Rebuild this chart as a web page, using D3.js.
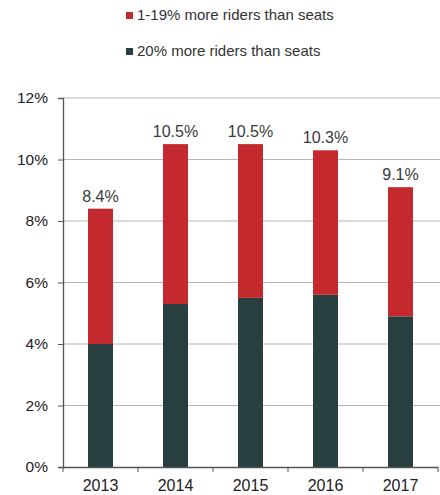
<!DOCTYPE html>
<html><head><meta charset="utf-8">
<script src="https://cdn.jsdelivr.net/npm/d3@7"></script>
<style>body{margin:0;background:#fff;} svg{display:block;font-family:"Liberation Sans",Arial,sans-serif;}</style>
</head><body><svg id="c" width="440" height="495"></svg>
<script>
const years = ["2013","2014","2015","2016","2017"];
const severe = [4.0, 5.3, 5.5, 5.6, 4.9];      // 20% more riders than seats
const total = [8.4, 10.5, 10.5, 10.3, 9.1];     // labelled totals
const moderate = total.map((t,i)=>+(t-severe[i]).toFixed(1)); // 1-19%
const yTicks = [0,2,4,6,8,10,12];
const seriesNames = ["1-19% more riders than seats","20% more riders than seats"];
const colors = {moderate:"#c4292e", severe:"#27403f"};

const svg = d3.select("#c");
const m = {l:63, r:2, t:98, b:28};
const W = 440, H = 495;
const x = d3.scaleBand().domain(years).range([m.l, W - m.r]).paddingInner(0).paddingOuter(0);
const y = d3.scaleLinear().domain([0,12]).range([467, 98]);

// gridlines
svg.append("g").selectAll("line").data(yTicks.filter(d=>d>0)).join("line")
  .attr("x1", m.l).attr("x2", W).attr("y1", d=>y(d)).attr("y2", d=>y(d))
  .attr("stroke", "#b5b5b5").attr("stroke-width", 1.2);

// bars
const bw = x.bandwidth()/3;
const g = svg.append("g");
g.selectAll(".s").data(years).join("rect")
  .attr("x", d=>x(d)+x.bandwidth()/2-bw/2).attr("width", bw)
  .attr("y", (d,i)=>y(severe[i])).attr("height", (d,i)=>y(0)-y(severe[i]))
  .attr("fill", colors.severe);
g.selectAll(".m").data(years).join("rect")
  .attr("x", d=>x(d)+x.bandwidth()/2-bw/2).attr("width", bw)
  .attr("y", (d,i)=>y(severe[i]+moderate[i])).attr("height", (d,i)=>y(severe[i])-y(severe[i]+moderate[i]))
  .attr("fill", colors.moderate);

// value labels
g.selectAll(".lab").data(years).join("text")
  .attr("x", d=>x(d)+x.bandwidth()/2).attr("y", (d,i)=>y(total[i])-7)
  .attr("text-anchor","middle").attr("font-size", 16).attr("fill","#3a3a3a")
  .text((d,i)=>total[i].toFixed(1)+"%");

// y axis
const ya = svg.append("g").attr("transform",`translate(${m.l},0)`)
  .call(d3.axisLeft(y).tickValues(yTicks).tickFormat(d=>d+"%").tickSize(5).tickPadding(10));
ya.select(".domain").attr("stroke","#555").attr("stroke-width",1.3);
ya.selectAll(".tick line").attr("stroke","#555");
ya.selectAll("text").attr("font-size",15.5).attr("fill","#222").style("font-family","Liberation Sans, Arial, sans-serif");

// x axis
const xa = svg.append("g").attr("transform",`translate(0,${y(0)})`)
  .call(d3.axisBottom(x).tickSize(0).tickPadding(13));
xa.select(".domain").attr("stroke","#555").attr("stroke-width",1.3);
xa.selectAll("text").attr("font-size",16).attr("fill","#222").style("font-family","Liberation Sans, Arial, sans-serif");
// category boundary ticks
svg.append("g").selectAll("line").data(years.concat(["end"])).join("line")
  .attr("x1",(d,i)=>i<years.length? x(d): W-m.r).attr("x2",(d,i)=>i<years.length? x(d): W-m.r)
  .attr("y1", y(0)).attr("y2", y(0)+5).attr("stroke","#555");

// legend
const legend = svg.append("g");
const lb = [20, 56];
const lc = [colors.moderate, colors.severe];
seriesNames.forEach((n,i)=>{
  legend.append("rect").attr("x",126).attr("y",lb[i]-8).attr("width",7).attr("height",7).attr("fill",lc[i]);
  legend.append("text").attr("x",137).attr("y",lb[i]).attr("font-size",15).attr("fill","#333").text(n);
});
</script></body></html>
